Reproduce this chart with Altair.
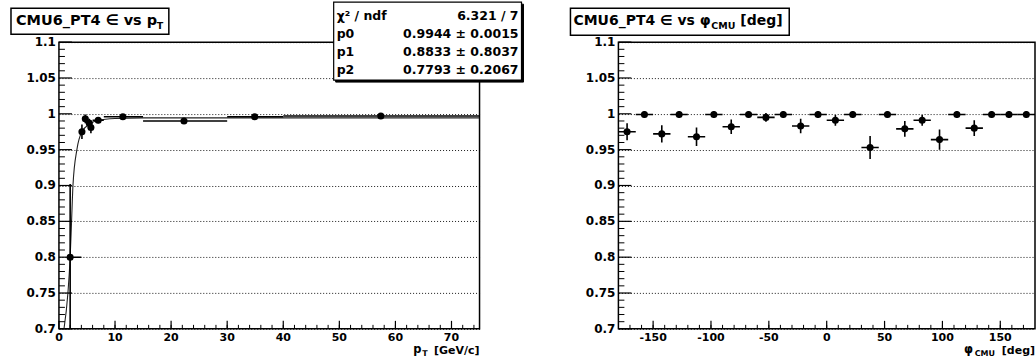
import altair as alt
import pandas as pd

FONT = "DejaVu Sans"

# ---------------- left panel: efficiency vs pT ----------------
pt_center = [2.0, 4.1, 4.7, 5.4, 5.7, 7.0, 11.4, 22.3, 34.9, 57.4]
pt_low = [1.5, 3.85, 4.45, 5.15, 5.45, 6.0, 8.0, 15.0, 30.0, 40.0]
pt_high = [4.0, 4.35, 4.95, 5.65, 5.95, 8.0, 15.0, 30.0, 40.0, 75.0]
eff_pt = [0.800, 0.975, 0.993, 0.987, 0.981, 0.991, 0.996, 0.990, 0.996, 0.997]
eff_pt_lo = [0.690, 0.965, 0.987, 0.981, 0.973, 0.987, 0.993, 0.987, 0.993, 0.995]
eff_pt_hi = [0.902, 0.985, 0.999, 0.993, 0.989, 0.995, 0.999, 0.993, 0.999, 0.999]

fit_pt = [0.9, 1.6, 2.0, 2.25, 2.5, 3.2, 4.1, 5.5, 7.0, 10.0, 15.0, 75.0]
fit_eff = [0.700, 0.750, 0.800, 0.850, 0.900, 0.950, 0.975, 0.986, 0.991, 0.9935, 0.9944, 0.9944]

stats_names = ["χ² / ndf", "p0", "p1", "p2"]
stats_values = ["6.321 / 7", "0.9944 ± 0.0015", "0.8833 ± 0.8037", "0.7793 ± 0.2067"]

# ---------------- right panel: efficiency vs phi ----------------
phi_center = [-172.5, -157.5, -142.5, -127.5, -112.5, -97.5, -82.5, -67.5,
              -52.5, -37.5, -22.5, -7.5, 7.5, 22.5, 37.5, 52.5,
              67.5, 82.5, 97.5, 112.5, 127.5, 142.5, 157.5, 172.5]
phi_halfwidth = [7.5] * 24
eff_phi = [0.975, 0.999, 0.972, 0.999, 0.968, 0.999, 0.982, 0.999,
           0.995, 0.999, 0.983, 0.999, 0.991, 0.999, 0.953, 0.999,
           0.979, 0.991, 0.964, 0.999, 0.980, 0.999, 0.999, 0.999]
err_phi = [0.012, 0.005, 0.012, 0.005, 0.013, 0.005, 0.010, 0.005,
           0.006, 0.005, 0.010, 0.005, 0.0075, 0.005, 0.016, 0.005,
           0.011, 0.0075, 0.014, 0.005, 0.011, 0.005, 0.005, 0.005]

# ---------------- axis tick lists ----------------
y_labels = [0.7, 0.75, 0.8, 0.85, 0.9, 0.95, 1.0, 1.05, 1.1]
y_label_text = ["0.7", "0.75", "0.8", "0.85", "0.9", "0.95", "1", "1.05", "1.1"]
y_minor = [round(0.70 + 0.01 * i, 2) for i in range(41)]
pt_labels = [0, 10, 20, 30, 40, 50, 60, 70]
pt_label_text = ["0", "10", "20", "30", "40", "50", "60", "70"]
pt_minor = list(range(2, 75, 2))
phi_labels = [-150, -100, -50, 0, 50, 100, 150]
phi_label_text = ["-150", "-100", "-50", "0", "50", "100", "150"]
phi_minor = list(range(-170, 180, 10))

W_L, W_R, H = 421, 417, 287

df_pt = pd.DataFrame({"pt": pt_center, "lo": pt_low, "hi": pt_high,
                      "eff": eff_pt, "elo": eff_pt_lo, "ehi": eff_pt_hi})
df_fit = pd.DataFrame({"pt": fit_pt, "eff": fit_eff})
df_phi = pd.DataFrame({"phi": phi_center,
                       "lo": [c - h for c, h in zip(phi_center, phi_halfwidth)],
                       "hi": [c + h for c, h in zip(phi_center, phi_halfwidth)],
                       "eff": eff_phi,
                       "elo": [e - s for e, s in zip(eff_phi, err_phi)],
                       "ehi": [e + s for e, s in zip(eff_phi, err_phi)]})
one = pd.DataFrame({"k": [0]})


def yenc(field):
    return alt.Y(f"{field}:Q",
                 scale=alt.Scale(domain=[0.7, 1.1], nice=False, zero=False),
                 axis=alt.Axis(values=y_labels, labels=False, title=None, grid=True,
                               gridDash=[1, 2], gridColor="black", gridWidth=1,
                               gridOpacity=0.9, ticks=False, domain=False))


def xenc(field, domain):
    return alt.X(f"{field}:Q", scale=alt.Scale(domain=domain, nice=False, zero=False),
                 axis=None)


def text(s, x, y, size, align="left", baseline="middle"):
    return alt.Chart(one).mark_text(text=s, align=align, baseline=baseline, font=FONT,
                                    fontWeight="bold", fontSize=size, color="black"
                                    ).encode(x=alt.value(x), y=alt.value(y))


def box(x, x2, y, y2, fill="white", sw=1.5):
    return alt.Chart(one).mark_rect(fill=fill, stroke="black", strokeWidth=sw).encode(
        x=alt.value(x), x2=alt.value(x2), y=alt.value(y), y2=alt.value(y2))


def axes_marks(domain, xvals, xtexts, xminor):
    ymin = [v for v in y_minor if round(v * 20, 6) != round(v * 20)]
    ymaj = [v for v in y_minor if round(v * 20, 6) == round(v * 20)]
    ly1 = alt.Chart(pd.DataFrame({"t": ymin})).mark_rule(color="black", strokeWidth=1).encode(
        y=yenc("t"), x=alt.value(0), x2=alt.value(6))
    ly2 = alt.Chart(pd.DataFrame({"t": ymaj})).mark_rule(color="black", strokeWidth=1.2).encode(
        y=yenc("t"), x=alt.value(0), x2=alt.value(13))
    lx1 = alt.Chart(pd.DataFrame({"t": xminor})).mark_rule(color="black", strokeWidth=1).encode(
        x=xenc("t", domain), y=alt.value(H), y2=alt.value(H - 4))
    lx2 = alt.Chart(pd.DataFrame({"t": xvals})).mark_rule(color="black", strokeWidth=1.2).encode(
        x=xenc("t", domain), y=alt.value(H), y2=alt.value(H - 8))
    ylab = alt.Chart(pd.DataFrame({"v": y_labels, "s": y_label_text})).mark_text(
        align="right", baseline="middle", font=FONT, fontWeight="bold", fontSize=12,
        color="black").encode(y=yenc("v"), x=alt.value(-3), text="s:N")
    xlab = alt.Chart(pd.DataFrame({"v": xvals, "s": xtexts})).mark_text(
        align="center", baseline="top", font=FONT, fontWeight="bold", fontSize=11,
        color="black").encode(x=xenc("v", domain), y=alt.value(H + 3), text="s:N")
    return [ly1, ly2, lx1, lx2, ylab, xlab]


# ---- left layers ----
dom_l = [0, 75]
fit = alt.Chart(df_fit).mark_line(color="#222", strokeWidth=1.1, interpolate="monotone",
                                  clip=True).encode(x=xenc("pt", dom_l), y=yenc("eff"))
exl = alt.Chart(df_pt).mark_rule(color="black", strokeWidth=1.6, clip=True).encode(
    x=xenc("lo", dom_l), x2="hi:Q", y=yenc("eff"))
eyl = alt.Chart(df_pt).mark_rule(color="black", strokeWidth=1.6, clip=True).encode(
    x=xenc("pt", dom_l), y=yenc("elo"), y2="ehi:Q")
ptl = alt.Chart(df_pt).mark_circle(color="black", size=50, opacity=1).encode(
    x=xenc("pt", dom_l), y=yenc("eff"))

left_layers = [fit, exl, eyl, ptl] + axes_marks(dom_l, pt_labels, pt_label_text, pt_minor)
left_layers += [
    box(-48, 110, -34, -8),
    text("CMU6_PT4 ∈ vs p", -43, -21, 14.5),
    text("T", 98, -16, 9.5),
    box(277, 465, -38, 40, fill="black", sw=1),
    box(275, 463, -40, 38, sw=1.2),
]
rows_y = [-26, -8, 10, 28]
for name, val, yy in zip(stats_names, stats_values, rows_y):
    left_layers.append(text(name, 278, yy, 12.5))
    left_layers.append(text(val, 460, yy, 12.5, align="right"))
left_layers += [
    text("[GeV/c]", W_L, 309, 11, align="right"),
    text("T", W_L - 52, 312, 8, align="right"),
    text("p", W_L - 58, 308, 11.5, align="right"),
]
left = alt.layer(*left_layers).properties(width=W_L, height=H)

# ---- right layers ----
dom_r = [-180, 180]
exr = alt.Chart(df_phi).mark_rule(color="black", strokeWidth=1.6, clip=True).encode(
    x=xenc("lo", dom_r), x2="hi:Q", y=yenc("eff"))
eyr = alt.Chart(df_phi).mark_rule(color="black", strokeWidth=1.6, clip=True).encode(
    x=xenc("phi", dom_r), y=yenc("elo"), y2="ehi:Q")
ptr = alt.Chart(df_phi).mark_circle(color="black", size=50, opacity=1).encode(
    x=xenc("phi", dom_r), y=yenc("eff"))

right_layers = [exr, eyr, ptr] + axes_marks(dom_r, phi_labels, phi_label_text, phi_minor)
right_layers += [
    box(-48, 171, -34, -7),
    text("CMU6_PT4 ∈ vs φ", -45, -21, 14),
    text("CMU", 93, -16, 9.5),
    text("[deg]", 122, -21, 14),
    text("[deg]", W_R, 309, 11, align="right"),
    text("CMU", W_R - 40, 312, 8, align="right"),
    text("φ", W_R - 62, 308, 11.5, align="right"),
]
right = alt.layer(*right_layers).properties(width=W_R, height=H)

chart = alt.hconcat(left, right, spacing=139, bounds="flush").properties(
    padding={"left": 9, "top": 0, "right": 0, "bottom": 0},
    autosize=alt.AutoSizeParams(type="pad"),
    background="white",
).configure_view(stroke="black", strokeWidth=1.5)

chart.save("out.html", embed_options={"renderer": "svg", "actions": False})
